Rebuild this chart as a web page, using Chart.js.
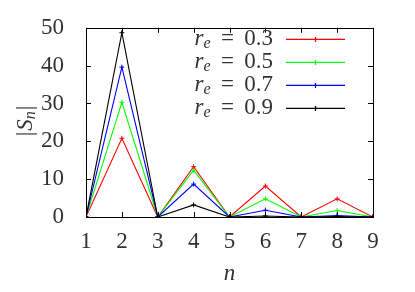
<!DOCTYPE html>
<html>
<head>
<meta charset="UTF-8">
<title>S_n</title>
<script src="https://cdn.jsdelivr.net/npm/chart.js@4/dist/chart.umd.min.js"></script>
<style>
  html, body { margin: 0; padding: 0; background: #fff; }
  #wrap { width: 415px; height: 292px; }
</style>
</head>
<body>
<div id="wrap"><canvas id="chart"></canvas></div>
<script>
// values
const nValues = [1, 2, 3, 4, 5, 6, 7, 8, 9]
const reValues = ['0.3', '0.5', '0.7', '0.9']
const s03 = [0, 20.8, 0, 13.3, 0, 8.2, 0, 4.8, 0]
const s05 = [0, 30.3, 0, 12.4, 0, 4.8, 0, 1.7, 0]
const s07 = [0, 39.6, 0, 8.7, 0, 1.8, 0, 0.4, 0]
const s09 = [0, 48.7, 0, 3.2, 0, 0.26, 0, 0.1, 0]
const colors = ['#ff0000', '#00ff00', '#0000ff', '#000000']
const yTicks = [0, 10, 20, 30, 40, 50]

const serif = "'Liberation Serif', 'DejaVu Serif', serif"
const textColor = '#333'
const series = [s03, s05, s07, s09]

const datasets = series.map((vals, i) => ({
  label: 'r_e = ' + reValues[i],
  data: vals.map((v, k) => ({ x: nValues[k], y: v })),
  borderColor: colors[i],
  backgroundColor: colors[i],
  borderWidth: 1.1,
  pointStyle: 'cross',
  pointRadius: 2.5,
  pointBorderWidth: 1,
  tension: 0,
  order: series.length - i
}))

// gnuplot-like frame, inner ticks, legend and y title
const frame = {
  id: 'frame',
  afterDatasetsDraw(c) {
    const ctx = c.ctx
    const a = c.chartArea
    const xs = c.scales.x, ys = c.scales.y
    ctx.save()
    ctx.strokeStyle = '#000'
    ctx.lineWidth = 1
    ctx.beginPath()
    for (const n of nValues) {
      const px = Math.round(xs.getPixelForValue(n)) + 0.5
      ctx.moveTo(px, a.bottom); ctx.lineTo(px, a.bottom - 5)
      ctx.moveTo(px, a.top); ctx.lineTo(px, a.top + 5)
    }
    for (const t of yTicks) {
      const py = Math.round(ys.getPixelForValue(t)) + 0.5
      ctx.moveTo(a.left, py); ctx.lineTo(a.left + 5, py)
      ctx.moveTo(a.right, py); ctx.lineTo(a.right - 5, py)
    }
    ctx.stroke()
    ctx.strokeRect(Math.round(a.left) + 0.5, Math.round(a.top) + 0.5,
      Math.round(a.right - a.left), Math.round(a.bottom - a.top))

    // legend
    ctx.textBaseline = 'middle'
    reValues.forEach((re, i) => {
      const y = 39 + i * 23
      const big = '23px ' + serif
      const bigIt = 'italic 23px ' + serif
      const small = 'italic 16px ' + serif
      const rest = ' \u2009=\u2009 ' + re
      ctx.fillStyle = textColor
      ctx.font = big; const wRest = ctx.measureText(rest).width
      ctx.font = small; const wE = ctx.measureText('e').width
      ctx.font = bigIt; const wR = ctx.measureText('r').width
      let x = 273 - wRest - wE - wR
      ctx.textAlign = 'left'
      ctx.font = bigIt; ctx.fillText('r', x, y); x += wR
      ctx.font = small; ctx.fillText('e', x, y + 5); x += wE
      ctx.font = big; ctx.fillText(rest, x, y)
      ctx.strokeStyle = colors[i]
      ctx.lineWidth = 1.3
      ctx.beginPath()
      ctx.moveTo(286, y + 0.3); ctx.lineTo(345, y + 0.3)
      ctx.moveTo(315.5, y - 2); ctx.lineTo(315.5, y + 3)
      ctx.stroke()
    })

    // y title |S_n|
    ctx.translate(26, 121)
    ctx.rotate(-Math.PI / 2)
    ctx.fillStyle = textColor
    ctx.textAlign = 'left'
    ctx.font = '23px ' + serif
    const w1 = ctx.measureText('|').width
    ctx.font = 'italic 23px ' + serif
    const wS = ctx.measureText('S').width
    ctx.font = 'italic 16px ' + serif
    const wn = ctx.measureText('n').width
    let x0 = -(w1 * 2 + wS + wn + 2) / 2
    ctx.font = '23px ' + serif; ctx.fillText('|', x0, 0); x0 += w1 + 1
    ctx.font = 'italic 23px ' + serif; ctx.fillText('S', x0, 0); x0 += wS
    ctx.font = 'italic 16px ' + serif; ctx.fillText('n', x0, 5); x0 += wn + 1
    ctx.font = '23px ' + serif; ctx.fillText('|', x0, 0)
    ctx.restore()
  }
}

new Chart(document.getElementById('chart'), {
  type: 'line',
  data: { datasets },
  options: {
    responsive: true,
    maintainAspectRatio: false,
    animation: false,
    layout: { padding: { top: 24, right: 42, left: 0, bottom: 0 } },
    plugins: { legend: { display: false }, tooltip: { enabled: false } },
    scales: {
      x: {
        type: 'linear',
        min: 1, max: 9,
        grid: { display: false },
        border: { display: false },
        ticks: { stepSize: 1, color: textColor, padding: 3, font: { family: serif, size: 23 } },
        title: { display: true, text: 'n', color: textColor, padding: { top: 12 }, font: { family: serif, size: 23, style: 'italic' } },
        afterFit(s) { s.height = 75 }
      },
      y: {
        min: 0, max: 50,
        grid: { display: false },
        border: { display: false },
        ticks: { stepSize: 10, color: textColor, padding: 14, font: { family: serif, size: 23 } },
        afterFit(s) { s.width = 86 }
      }
    }
  },
  plugins: [frame]
})
</script>
</body>
</html>
